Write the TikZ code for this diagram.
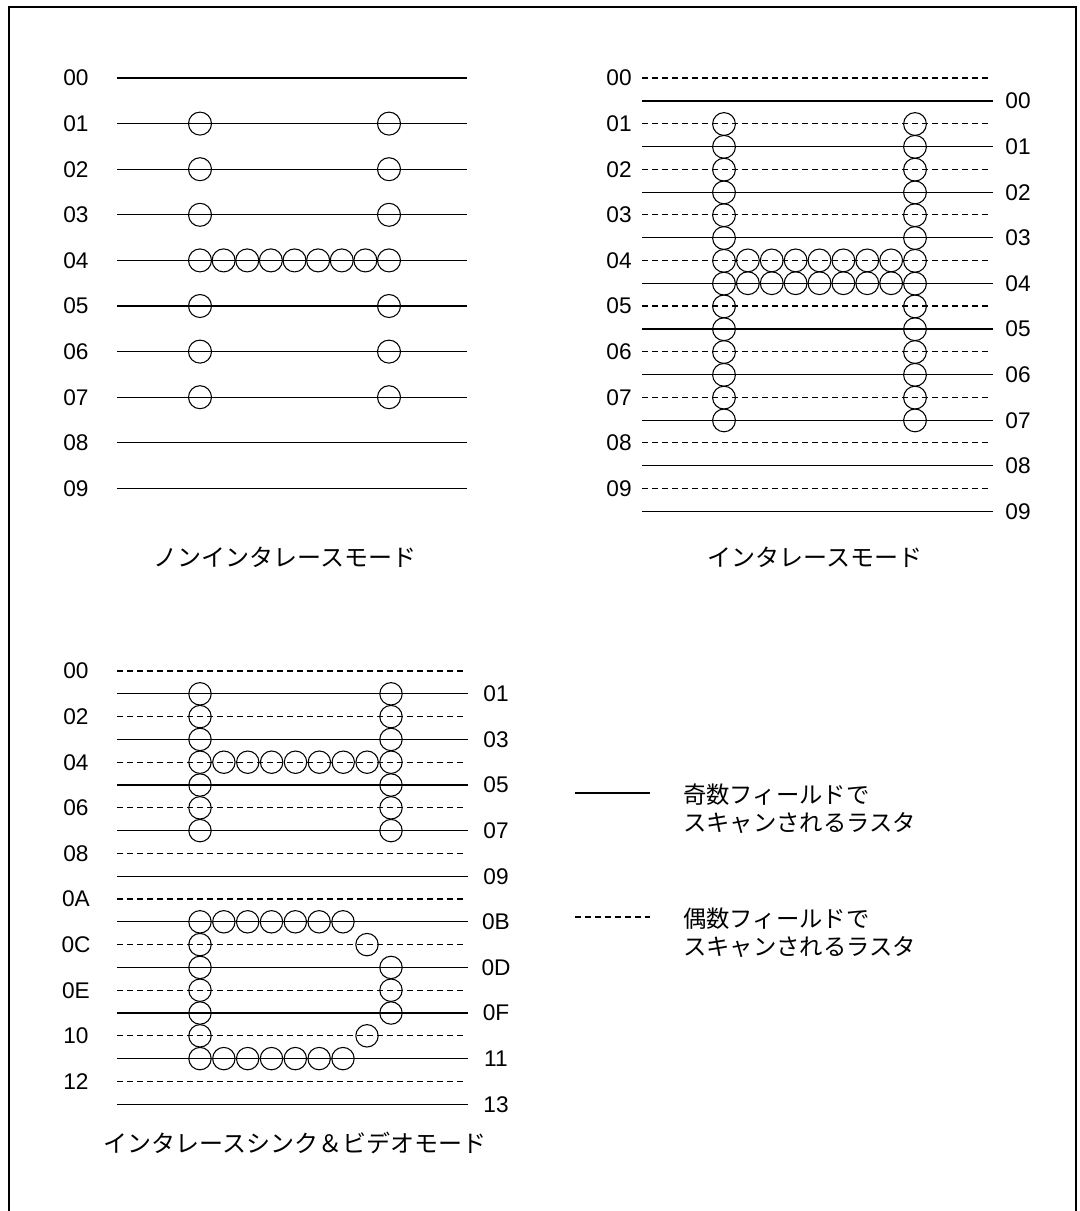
\documentclass[tikz,border=0pt]{standalone}
\usepackage{fontspec}
\setmainfont{Liberation Sans}
\newfontfamily\jp{Noto Sans CJK JP}
\begin{document}
\begin{tikzpicture}[x=0.75pt,y=-0.75pt,
  solidl/.style={line width=0.8pt},
  dashl/.style={line width=0.8pt,dash pattern=on 4.5pt off 3pt},
  dot/.style={line width=0.8pt},
  numlab/.style={font=\fontsize{17}{20}\selectfont,inner sep=0pt},
  jplab/.style={font=\jp\fontsize{17.5}{21}\selectfont,inner sep=0pt},
  caplab/.style={font=\jp\fontsize{18}{21}\selectfont,inner sep=0pt},
  frame/.style={line width=1.3pt}]
\useasboundingbox (0,0) rectangle (1080,1211);
\draw[frame] (9,1212) -- (9,7) -- (1076,7) -- (1076,1212);
% ---------- top-left: non-interlace ----------
\foreach \lab [count=\k from 0] in {00,01,02,03,04,05,06,07,08,09}{
  \pgfmathsetmacro\yy{78+45.6*\k}
  \node[numlab] (tl\k) at (76,\yy) {\lab};
  \draw[solidl] (117,\yy) -- (467,\yy);
}
\foreach \k in {1,2,3,5,6,7}{
  \pgfmathsetmacro\yy{78+45.6*\k}
  \draw[dot] (200,\yy) circle[radius=11.5];
  \draw[dot] (389,\yy) circle[radius=11.5];
}
\foreach \j in {0,...,8}{
  \draw[dot] (200+23.625*\j,260.4) circle[radius=11.5];
}
\node[caplab] (captA) at (285,557) {ノンインタレースモード};
% ---------- top-right: interlace ----------
\foreach \lab [count=\k from 0] in {00,01,02,03,04,05,06,07,08,09}{
  \pgfmathsetmacro\yy{78+45.6*\k}
  \pgfmathsetmacro\ys{101+45.6*\k}
  \node[numlab] (trl\k) at (619,\yy) {\lab};
  \draw[dashl] (642,\yy) -- (990,\yy);
  \draw[solidl] (642,\ys) -- (993,\ys);
  \node[numlab] (trr\k) at (1018,\ys) {\lab};
}
\foreach \m in {0,...,13}{
  \pgfmathsetmacro\yy{124+22.8*\m}
  \draw[dot] (724,\yy) circle[radius=11.4];
  \draw[dot] (915,\yy) circle[radius=11.4];
}
\foreach \j in {1,...,7}{
  \draw[dot] (724+23.875*\j,260.4) circle[radius=11.4];
  \draw[dot] (724+23.875*\j,283.2) circle[radius=11.4];
}
\node[caplab] (captB) at (815,557) {インタレースモード};
% ---------- bottom: interlace sync & video ----------
\foreach \lab [count=\r from 0] in {00,01,02,03,04,05,06,07,08,09,0A,0B,0C,0D,0E,0F,10,11,12,13}{
  \pgfmathsetmacro\yy{671+22.8*\r}
  \ifodd\r
    \draw[solidl] (117,\yy) -- (468,\yy);
    \node[numlab] (br\r) at (496,\yy) {\lab};
  \else
    \draw[dashl] (117,\yy) -- (465,\yy);
    \node[numlab] (bl\r) at (76,\yy) {\lab};
  \fi
}
\foreach \r in {1,...,7}{
  \pgfmathsetmacro\yy{671+22.8*\r}
  \draw[dot] (200,\yy) circle[radius=11.2];
  \draw[dot] (391,\yy) circle[radius=11.2];
}
\foreach \j in {1,...,7}{
  \draw[dot] (200+23.875*\j,762.2) circle[radius=11.2];
}
\foreach \r in {12,...,16}{
  \pgfmathsetmacro\yy{671+22.8*\r}
  \draw[dot] (200,\yy) circle[radius=11.2];
}
\foreach \j in {0,...,6}{
  \draw[dot] (200+23.83*\j,921.8) circle[radius=11.2];
  \draw[dot] (200+23.83*\j,1058.6) circle[radius=11.2];
}
\draw[dot] (367,944.6) circle[radius=11.2];
\draw[dot] (367,1035.8) circle[radius=11.2];
\foreach \r in {13,14,15}{
  \pgfmathsetmacro\yy{671+22.8*\r}
  \draw[dot] (391,\yy) circle[radius=11.2];
}
\node[caplab] (captC) at (295,1143) {インタレースシンク＆ビデオモード};
% ---------- legend ----------
\coordinate (lgA1) at (575,793);
\coordinate (lgA2) at (650,793);
\draw[solidl] (lgA1) -- (lgA2);
\node[jplab,anchor=west] (lgAt1) at (683,795) {奇数フィールドで};
\node[jplab,anchor=west] (lgAt2) at (683,823) {スキャンされるラスタ};
\coordinate (lgB1) at (575,917);
\coordinate (lgB2) at (650,917);
\draw[dashl] (lgB1) -- (lgB2);
\node[jplab,anchor=west] (lgBt1) at (683,919) {偶数フィールドで};
\node[jplab,anchor=west] (lgBt2) at (683,947) {スキャンされるラスタ};
\end{tikzpicture}
\end{document}
